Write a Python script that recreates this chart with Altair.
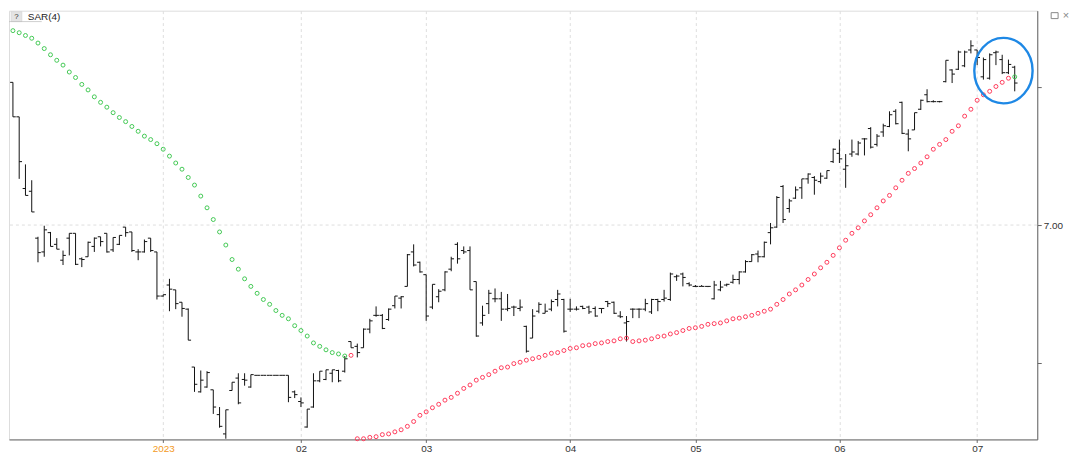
import altair as alt
import pandas as pd

# ---- OHLC values (one bar per trading day) ----
opens = [
    7.207, 7.157, 7.053, 7.049, 6.981, 6.961, 6.989, 6.972, 6.949, 6.981,
    6.988, 6.951, 6.954, 6.969, 6.983, 6.988, 6.964, 6.972, 6.997, 6.990,
    6.961, 6.961, 6.981, 6.961, 6.897, 6.913, 6.906, 6.888, 6.878, 6.794,
    6.758, 6.765, 6.761, 6.725, 6.697, 6.760, 6.778, 6.776, 6.765, 6.782,
    6.782, 6.782, 6.782, 6.782, 6.782, 6.758, 6.744, 6.707, 6.736, 6.774,
    6.776, 6.785, 6.789, 6.788, 6.831, 6.824, 6.822, 6.849, 6.869, 6.869,
    6.863, 6.883, 6.894, 6.911, 6.961, 6.946, 6.928, 6.881, 6.896, 6.906,
    6.936, 6.972, 6.963, 6.963, 6.918, 6.858, 6.886, 6.893, 6.893, 6.878,
    6.881, 6.879, 6.853, 6.836, 6.875, 6.872, 6.878, 6.892, 6.892, 6.878,
    6.878, 6.882, 6.881, 6.879, 6.879, 6.889, 6.888, 6.868, 6.858, 6.878,
    6.878, 6.878, 6.874, 6.892, 6.892, 6.892, 6.925, 6.929, 6.915, 6.911,
    6.911, 6.911, 6.893, 6.906, 6.913, 6.917, 6.921, 6.932, 6.947, 6.958,
    6.954, 6.989, 6.997, 7.056, 7.024, 7.039, 7.054, 7.067, 7.069, 7.063,
    7.068, 7.092, 7.104, 7.081, 7.103, 7.103, 7.125, 7.140, 7.117, 7.135,
    7.143, 7.165, 7.178, 7.132, 7.138, 7.168, 7.189, 7.179, 7.179, 7.208,
    7.225, 7.226, 7.231, 7.254, 7.254, 7.215, 7.213, 7.250, 7.240, 7.221,
    7.229,
]
highs = [
    7.207, 7.157, 7.088, 7.065, 6.983, 6.999, 6.990, 6.981, 6.963, 6.988,
    6.988, 6.953, 6.976, 6.982, 6.983, 6.988, 6.982, 6.985, 6.997, 6.990,
    6.965, 6.979, 6.981, 6.961, 6.899, 6.922, 6.906, 6.888, 6.879, 6.794,
    6.789, 6.788, 6.761, 6.736, 6.732, 6.772, 6.785, 6.785, 6.783, 6.782,
    6.782, 6.782, 6.782, 6.782, 6.782, 6.760, 6.750, 6.733, 6.785, 6.788,
    6.790, 6.790, 6.790, 6.810, 6.831, 6.828, 6.850, 6.864, 6.882, 6.871,
    6.879, 6.897, 6.897, 6.958, 6.972, 6.947, 6.928, 6.914, 6.907, 6.933,
    6.954, 6.975, 6.969, 6.969, 6.918, 6.883, 6.906, 6.908, 6.903, 6.900,
    6.883, 6.892, 6.854, 6.878, 6.888, 6.886, 6.892, 6.906, 6.893, 6.893,
    6.882, 6.883, 6.883, 6.882, 6.879, 6.890, 6.889, 6.875, 6.868, 6.879,
    6.879, 6.893, 6.893, 6.893, 6.906, 6.931, 6.928, 6.931, 6.917, 6.913,
    6.913, 6.911, 6.919, 6.919, 6.915, 6.928, 6.933, 6.949, 6.958, 6.963,
    6.976, 7.003, 7.042, 7.058, 7.038, 7.056, 7.067, 7.075, 7.071, 7.076,
    7.079, 7.111, 7.124, 7.103, 7.124, 7.122, 7.126, 7.142, 7.132, 7.147,
    7.165, 7.168, 7.179, 7.139, 7.163, 7.182, 7.197, 7.181, 7.180, 7.239,
    7.226, 7.253, 7.253, 7.268, 7.254, 7.243, 7.249, 7.253, 7.247, 7.240,
    7.231,
]
lows = [
    7.157, 7.067, 7.043, 7.019, 6.946, 6.954, 6.969, 6.965, 6.942, 6.956,
    6.942, 6.939, 6.954, 6.961, 6.969, 6.960, 6.961, 6.971, 6.983, 6.961,
    6.949, 6.960, 6.961, 6.892, 6.896, 6.875, 6.878, 6.867, 6.833, 6.758,
    6.757, 6.764, 6.726, 6.706, 6.690, 6.760, 6.740, 6.767, 6.764, 6.782,
    6.782, 6.782, 6.782, 6.782, 6.743, 6.749, 6.736, 6.706, 6.735, 6.772,
    6.775, 6.772, 6.772, 6.786, 6.822, 6.808, 6.822, 6.843, 6.867, 6.849,
    6.861, 6.879, 6.879, 6.911, 6.940, 6.931, 6.861, 6.878, 6.888, 6.904,
    6.933, 6.944, 6.958, 6.906, 6.838, 6.854, 6.871, 6.888, 6.861, 6.875,
    6.868, 6.875, 6.815, 6.836, 6.872, 6.872, 6.875, 6.882, 6.844, 6.874,
    6.876, 6.878, 6.871, 6.867, 6.872, 6.881, 6.871, 6.865, 6.831, 6.865,
    6.865, 6.875, 6.871, 6.875, 6.889, 6.890, 6.919, 6.911, 6.911, 6.910,
    6.911, 6.910, 6.892, 6.904, 6.911, 6.915, 6.914, 6.931, 6.947, 6.946,
    6.953, 6.972, 6.996, 7.003, 7.018, 7.038, 7.038, 7.060, 7.044, 7.060,
    7.067, 7.090, 7.090, 7.054, 7.099, 7.101, 7.101, 7.111, 7.114, 7.128,
    7.142, 7.146, 7.132, 7.107, 7.138, 7.167, 7.178, 7.178, 7.178, 7.207,
    7.206, 7.225, 7.229, 7.249, 7.232, 7.211, 7.211, 7.232, 7.219, 7.219,
    7.194,
]
closes = [
    7.157, 7.092, 7.043, 7.019, 6.960, 6.993, 6.969, 6.965, 6.956, 6.988,
    6.943, 6.950, 6.975, 6.981, 6.976, 6.961, 6.982, 6.985, 6.989, 6.963,
    6.961, 6.976, 6.963, 6.897, 6.899, 6.907, 6.886, 6.879, 6.833, 6.769,
    6.775, 6.786, 6.736, 6.708, 6.732, 6.772, 6.742, 6.775, 6.783, 6.782,
    6.782, 6.782, 6.782, 6.782, 6.750, 6.754, 6.742, 6.733, 6.774, 6.788,
    6.790, 6.790, 6.774, 6.806, 6.822, 6.815, 6.849, 6.861, 6.869, 6.850,
    6.878, 6.897, 6.896, 6.957, 6.942, 6.932, 6.868, 6.914, 6.904, 6.932,
    6.951, 6.951, 6.961, 6.906, 6.839, 6.869, 6.901, 6.893, 6.878, 6.879,
    6.881, 6.881, 6.817, 6.868, 6.885, 6.875, 6.889, 6.900, 6.846, 6.878,
    6.878, 6.879, 6.874, 6.868, 6.879, 6.886, 6.872, 6.867, 6.860, 6.878,
    6.878, 6.886, 6.892, 6.889, 6.894, 6.929, 6.926, 6.924, 6.913, 6.911,
    6.911, 6.911, 6.913, 6.910, 6.914, 6.921, 6.932, 6.947, 6.957, 6.954,
    6.975, 6.996, 7.040, 7.008, 7.035, 7.051, 7.067, 7.074, 7.065, 7.071,
    7.079, 7.110, 7.096, 7.086, 7.106, 7.119, 7.125, 7.113, 7.129, 7.144,
    7.160, 7.147, 7.133, 7.125, 7.163, 7.181, 7.179, 7.179, 7.179, 7.239,
    7.219, 7.251, 7.251, 7.260, 7.243, 7.240, 7.247, 7.251, 7.221, 7.233,
    7.206,
]
# ---- Parabolic SAR(4) values and side ----
sar = [
    7.282, 7.279, 7.275, 7.271, 7.264, 7.256, 7.247, 7.239, 7.232, 7.222,
    7.214, 7.204, 7.196, 7.186, 7.178, 7.171, 7.163, 7.156, 7.150, 7.143,
    7.136, 7.129, 7.124, 7.118, 7.110, 7.100, 7.090, 7.081, 7.069, 7.058,
    7.042, 7.025, 7.008, 6.990, 6.971, 6.950, 6.936, 6.922, 6.911, 6.901,
    6.892, 6.885, 6.876, 6.869, 6.864, 6.854, 6.847, 6.839, 6.829, 6.824,
    6.819, 6.815, 6.813, 6.810, 6.811, 6.690, 6.690, 6.692, 6.693, 6.696,
    6.697, 6.700, 6.703, 6.708, 6.715, 6.724, 6.729, 6.735, 6.740, 6.746,
    6.750, 6.756, 6.763, 6.768, 6.775, 6.779, 6.783, 6.788, 6.793, 6.794,
    6.799, 6.801, 6.804, 6.806, 6.808, 6.811, 6.814, 6.815, 6.818, 6.821,
    6.822, 6.825, 6.826, 6.828, 6.829, 6.831, 6.832, 6.835, 6.836, 6.831,
    6.832, 6.833, 6.835, 6.838, 6.839, 6.842, 6.844, 6.847, 6.850, 6.851,
    6.853, 6.856, 6.857, 6.858, 6.861, 6.864, 6.865, 6.867, 6.869, 6.872,
    6.875, 6.878, 6.885, 6.892, 6.900, 6.906, 6.913, 6.921, 6.929, 6.938,
    6.946, 6.956, 6.967, 6.978, 6.988, 6.996, 7.006, 7.015, 7.025, 7.035,
    7.043, 7.054, 7.065, 7.075, 7.082, 7.090, 7.099, 7.110, 7.117, 7.124,
    7.136, 7.144, 7.158, 7.168, 7.181, 7.189, 7.194, 7.201, 7.207, 7.213,
    7.215,
]
sar_side = ["down"] * 54 + ["up"] * 106 + ["down"]

# ---- axis ticks / labels ----
month_ticks = [24, 46, 66, 89, 109, 132, 154]
month_labels = ["2023", "02", "03", "04", "05", "06", "07"]
y_ticks = [6.80, 7.00, 7.20]
y_label_value = 7.00

# annotation ellipse centre (bar index, price)
circle_x = [158.2]
circle_y = [7.224]

n = len(opens)
df = pd.DataFrame({
    "idx": list(range(n)), "open": opens, "high": highs, "low": lows,
    "close": closes, "sar": sar, "side": sar_side,
})

W, H = 1036, 432
FONT = "Liberation Sans"
xscale = alt.Scale(domain=[-0.63, 163.6], nice=False, zero=False)
yscale = alt.Scale(domain=[6.689, 7.311], nice=False, zero=False)

label_expr = " : ".join(f"datum.value == {v} ? '{l}'" for v, l in zip(month_ticks, month_labels)) + " : ''"
xaxis = alt.Axis(
    values=month_ticks, labelExpr=label_expr, title=None, grid=True,
    gridDash=[3, 3], gridColor="#dedede", tickSize=3, tickColor="#666",
    domainColor="#666", labelFontSize=10, labelFont=FONT, labelPadding=1,
    labelColor={"condition": {"test": f"datum.value == {month_ticks[0]}", "value": "#f39a1e"}, "value": "#333"},
)
yaxis = alt.Axis(
    orient="right", values=y_ticks, title=None, grid=False,
    labelExpr=f"datum.value == {y_label_value} ? '7.00' : ''",
    tickSize=4, tickColor="#666", domainColor="#666", labelFontSize=10,
    labelFont=FONT, labelColor="#333", labelPadding=2,
)

def X(field):
    return alt.X(field, type="quantitative", scale=xscale, axis=xaxis)

def Y(field):
    return alt.Y(field, type="quantitative", scale=yscale, axis=yaxis)

base = alt.Chart(df)

grid_y = alt.Chart(pd.DataFrame({"y": [y_label_value]})).mark_rule(
    strokeDash=[3, 3], color="#dedede", strokeWidth=1
).encode(y=Y("y"))

hl = base.mark_rule(color="#111", strokeWidth=1).encode(x=X("idx"), y=Y("low"), y2="high:Q")
op = base.transform_calculate(x0="datum.idx - 0.45").mark_rule(color="#111", strokeWidth=1).encode(
    x=X("x0"), x2="idx:Q", y=Y("open"))
cl = base.transform_calculate(x1="datum.idx + 0.45").mark_rule(color="#111", strokeWidth=1).encode(
    x=X("idx"), x2="x1:Q", y=Y("close"))

pts = base.mark_point(shape="circle", filled=False, size=16, strokeWidth=1, opacity=1).encode(
    x=X("idx"), y=Y("sar"),
    color=alt.Color("side:N", scale=alt.Scale(domain=["down", "up"], range=["#44c955", "#ff3b5b"]), legend=None),
)

rx = 0.89
ell_path = f"M {-rx} 0 A {rx} 1 0 1 0 {rx} 0 A {rx} 1 0 1 0 {-rx} 0 Z"
ellipse = alt.Chart(pd.DataFrame({"cx": circle_x, "cy": circle_y})).mark_point(
    shape=ell_path, size=4356, filled=False, stroke="#1e88e5", strokeWidth=2.4, opacity=1
).encode(x=X("cx"), y=Y("cy"))

one = pd.DataFrame({"a": [0]})
qbox = alt.Chart(one).mark_rect(fill="#e4e4e4", stroke="#cfcfcf", strokeWidth=0.5).encode(
    x=alt.value(2), x2=alt.value(13), y=alt.value(1), y2=alt.value(11))
qtext = alt.Chart(one).mark_text(text="?", fontSize=8, font=FONT, color="#333").encode(
    x=alt.value(7.5), y=alt.value(6.5))
title_txt = alt.Chart(one).mark_text(text="SAR(4)", fontSize=10, font=FONT, color="#222", align="left").encode(
    x=alt.value(19), y=alt.value(6.5))
hdr_line = alt.Chart(one).mark_rule(color="#bbb", strokeWidth=0.7).encode(
    x=alt.value(0), x2=alt.value(33), y=alt.value(11))
box_icon = alt.Chart(one).mark_rect(fill="white", stroke="#888", strokeWidth=1).encode(
    x=alt.value(W + 14), x2=alt.value(W + 21), y=alt.value(2), y2=alt.value(8))
x_icon = alt.Chart(one).mark_text(text="×", fontSize=11, font=FONT, color="#888").encode(
    x=alt.value(W + 29), y=alt.value(5))

chart = alt.layer(
    grid_y, hl, op, cl, pts, ellipse, qbox, qtext, title_txt, hdr_line, box_icon, x_icon
).properties(width=W, height=H, padding={"left": 0, "top": 0, "right": 2, "bottom": 0}).configure_view(
    stroke="#aaa", strokeWidth=1
).configure(background="white")

chart.save("out.html", embed_options={"renderer": "svg", "actions": False})
